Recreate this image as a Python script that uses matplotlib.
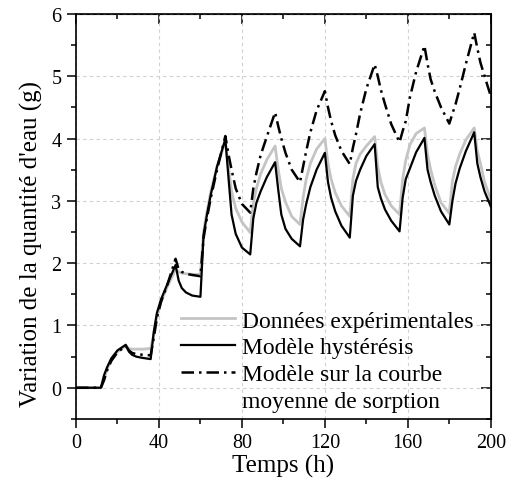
import matplotlib
matplotlib.use("Agg")
import matplotlib.pyplot as plt
from matplotlib.ticker import MultipleLocator

plt.rcParams['font.family'] = ['Liberation Serif', 'DejaVu Serif']

# time (h)
temps = [0, 12,
         13.5, 15, 17, 20, 24,
         25.5, 27, 29, 32, 36,
         37.5, 39, 41, 44, 48,
         49.5, 51, 53, 56, 60,
         61.5, 63, 65, 68, 72,
         73.5, 75, 77, 80, 84,
         85.5, 87, 89, 92, 96,
         97.5, 99, 101, 104, 108,
         109.5, 111, 113, 116, 120,
         121.5, 123, 125, 128, 132,
         133.5, 135, 137, 140, 144,
         145.5, 147, 149, 152, 156,
         157.5, 159, 161, 164, 168,
         169.5, 171, 173, 176, 180,
         181.5, 183, 185, 188, 192,
         193.5, 195, 197, 200]

# measured water uptake (g)
experience = [0, 0,
              0.14, 0.30, 0.45, 0.58, 0.67,
              0.63, 0.62, 0.62, 0.62, 0.63,
              0.85, 1.15, 1.38, 1.62, 1.90,
              1.86, 1.84, 1.83, 1.82, 1.82,
              2.50, 2.80, 3.15, 3.55, 3.95,
              3.55, 3.15, 2.88, 2.66, 2.49,
              2.97, 3.20, 3.43, 3.66, 3.88,
              3.50, 3.20, 2.98, 2.75, 2.62,
              3.05, 3.35, 3.60, 3.83, 4.00,
              3.60, 3.35, 3.13, 2.92, 2.75,
              3.35, 3.60, 3.75, 3.88, 4.03,
              3.55, 3.30, 3.10, 2.92, 2.78,
              3.35, 3.65, 3.90, 4.08, 4.17,
              3.75, 3.50, 3.25, 2.97, 2.80,
              3.32, 3.55, 3.75, 3.98, 4.17,
              3.80, 3.60, 3.30, 3.02]

# hysteresis model
hysteresis = [0, 0,
              0.20, 0.33, 0.47, 0.60, 0.69,
              0.58, 0.53, 0.50, 0.48, 0.46,
              0.90, 1.20, 1.42, 1.66, 1.97,
              1.72, 1.60, 1.53, 1.48, 1.46,
              2.45, 2.75, 3.10, 3.55, 3.99,
              3.38, 2.78, 2.47, 2.25, 2.14,
              2.72, 2.97, 3.15, 3.38, 3.62,
              3.18, 2.78, 2.55, 2.39, 2.27,
              2.70, 2.95, 3.22, 3.50, 3.77,
              3.30, 3.05, 2.83, 2.60, 2.41,
              3.08, 3.32, 3.50, 3.72, 3.91,
              3.22, 3.04, 2.86, 2.68, 2.51,
              3.05, 3.35, 3.52, 3.78, 4.01,
              3.50, 3.30, 3.08, 2.83, 2.62,
              3.00, 3.28, 3.52, 3.80, 4.10,
              3.60, 3.38, 3.15, 2.91]

# model on the mean sorption curve
moyenne = [0, 0,
           0.12, 0.28, 0.43, 0.57, 0.67,
           0.60, 0.56, 0.54, 0.53, 0.52,
           0.80, 1.12, 1.38, 1.65, 2.07,
           1.90, 1.86, 1.83, 1.81, 1.79,
           2.40, 2.70, 3.05, 3.50, 4.04,
           3.75, 3.50, 3.20, 2.95, 2.81,
           3.20, 3.45, 3.73, 4.03, 4.42,
           4.20, 4.00, 3.77, 3.50, 3.30,
           3.55, 3.80, 4.10, 4.45, 4.76,
           4.50, 4.28, 4.05, 3.80, 3.59,
           3.85, 4.07, 4.40, 4.80, 5.19,
           5.00, 4.78, 4.55, 4.23, 3.94,
           4.12, 4.28, 4.66, 5.07, 5.49,
           5.20, 4.95, 4.75, 4.50, 4.24,
           4.40, 4.55, 4.80, 5.20, 5.70,
           5.45, 5.22, 5.00, 4.68]

fig = plt.figure(figsize=(5.15, 4.81), dpi=100)
ax = fig.add_axes([0.1476, 0.127, 0.8054, 0.842])

ax.plot(temps, experience, color='#c4c4c4', lw=2.0, label='Données expérimentales')
ax.plot(temps, hysteresis, color='black', lw=1.6, label='Modèle hystérésis')
ax.plot(temps, moyenne, color='black', lw=1.8, linestyle=(0, (5, 2, 1, 2)),
        label='Modèle sur la courbe')
ax.plot([], [], color='none', label='moyenne de sorption')

ax.set_xlim(0, 200)
ax.set_ylim(-0.5, 6)
ax.xaxis.set_major_locator(MultipleLocator(40))
ax.xaxis.set_minor_locator(MultipleLocator(20))
ax.yaxis.set_major_locator(MultipleLocator(1))
ax.yaxis.set_minor_locator(MultipleLocator(0.5))
ax.grid(True, which='major', color='#d0d0d0', linestyle=(0, (3, 3)), lw=0.8)
ax.set_axisbelow(True)

ax.tick_params(which='major', direction='out', length=6.5, width=1.1, labelsize=14.5, pad=4)
ax.tick_params(which='minor', direction='out', length=3.5, width=1.1)
for s in ax.spines.values():
    s.set_linewidth(1.2)

top = ax.secondary_xaxis('top')
top.xaxis.set_major_locator(MultipleLocator(40))
top.xaxis.set_minor_locator(MultipleLocator(20))
top.tick_params(which='major', direction='in', length=7, width=1.1, labeltop=False)
top.tick_params(which='minor', direction='in', length=3.5, width=1.1)
right = ax.secondary_yaxis('right')
right.yaxis.set_major_locator(MultipleLocator(1))
right.yaxis.set_minor_locator(MultipleLocator(0.5))
right.tick_params(which='major', direction='in', length=7, width=1.1, labelright=False)
right.tick_params(which='minor', direction='in', length=3.5, width=1.1)

ax.set_xlabel('Temps (h)', fontsize=18)
ax.set_ylabel("Variation de la quantité d'eau (g)", fontsize=18)
ax.xaxis.set_label_coords(0.5, -0.086)
ax.yaxis.set_label_coords(-0.08, 0.435)

leg = ax.legend(loc='lower left', bbox_to_anchor=(0.235, 0.0), frameon=False,
                fontsize=17, handlelength=2.3, handletextpad=0.3,
                labelspacing=0.22, borderaxespad=0.15, borderpad=0.15)

fig.savefig('out.png', dpi=100)
